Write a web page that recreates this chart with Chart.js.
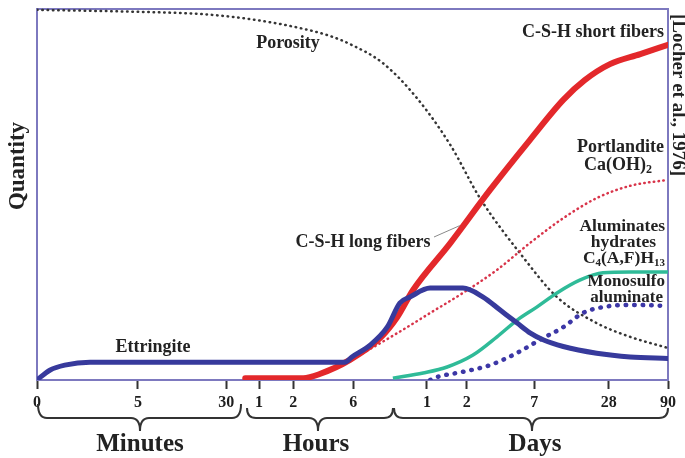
<!DOCTYPE html>
<html>
<head>
<meta charset="utf-8">
<script src="https://cdn.jsdelivr.net/npm/chart.js@4/dist/chart.umd.min.js"></script>
<style>
  html, body { margin: 0; padding: 0; background: #ffffff; }
  #wrap { width: 685px; height: 458px; position: relative; }
</style>
</head>
<body>
<div id="wrap"><canvas id="c"></canvas></div>
<script>
// Time axis: non-uniform scale, positions of each tick along the axis (0–100)
const tickPos   = [0, 16.0, 30.0, 35.2, 40.6, 50.1, 61.8, 68.1, 78.8, 90.6, 100];
const tickText  = ['0', '5', '30', '1', '2', '6', '1', '2', '7', '28', '90'];

// Porosity (black dotted)
const porosityX = [0, 10.0, 17.9, 25.8, 33.8, 41.7, 46.4, 49.6, 54.8, 60.2, 65.5, 70.2, 77.0, 82.4, 88.7, 94.0, 100];
const porosityY = [99.5, 99.2, 98.9, 98.4, 97.0, 94.6, 92.5, 90.3, 85.2, 75.8, 63.2, 48.9, 33.1, 22.3, 15.3, 11.6, 8.6];

// Ettringite (blue solid)
const ettringiteX = [0, 2.1, 4.4, 8.4, 48.8, 49.9, 52.8, 55.5, 57.5, 59.1, 62.3, 67.5, 70.7, 73.4, 76.1, 78.2, 80.2, 83.4, 88.7, 94.0, 100];
const ettringiteY = [0, 2.7, 4.0, 4.8, 4.8, 6.2, 9.4, 14.2, 20.7, 22.3, 24.7, 24.7, 22.3, 18.8, 15.3, 12.6, 10.8, 9.0, 7.2, 6.2, 5.8];

// C-S-H fibers (red solid)
const cshX = [33.0, 42.2, 44.8, 49.6, 54.4, 57.1, 59.6, 65.5, 71.8, 78.1, 83.4, 86.8, 90.8, 95.6, 100];
const cshY = [0.5, 0.5, 1.6, 5.4, 11.3, 16.9, 24.2, 36.8, 51.1, 64.5, 75.3, 80.6, 84.9, 87.6, 90.1];

// Portlandite Ca(OH)2 (red dotted)
const portlanditeX = [49.6, 51.7, 57.1, 62.3, 67.5, 72.9, 78.1, 83.4, 88.7, 94.0, 100];
const portlanditeY = [5.4, 7.3, 12.6, 18.0, 23.4, 29.6, 36.8, 43.5, 48.9, 52.2, 53.8];

// Aluminate hydrates C4(A,F)H13 (green solid)
const aluminatesX = [56.4, 61.2, 65.0, 69.1, 72.9, 76.1, 79.2, 82.4, 86.1, 89.7, 94.0, 100];
const aluminatesY = [0.5, 1.9, 3.5, 6.7, 11.6, 16.1, 19.6, 23.4, 26.9, 28.8, 29.0, 29.0];

// Monosulfoaluminate (blue dotted)
const monosulfoX = [62.3, 63.4, 67.5, 71.8, 76.1, 79.7, 83.4, 86.5, 89.7, 94.0, 100];
const monosulfoY = [0, 0.8, 2.2, 4.0, 7.3, 10.8, 14.2, 18.0, 19.6, 20.2, 19.9];

const pts = (xs, ys) => xs.map((x, i) => ({ x: x, y: ys[i] }));

const SERIF = '"Liberation Serif", "DejaVu Serif", serif';
const FRAME = '#7d79bf';

function drawText(ctx, s, x, y, size, align, color) {
  ctx.font = 'bold ' + size + 'px ' + SERIF;
  ctx.fillStyle = color || '#222222';
  ctx.textAlign = align || 'center';
  ctx.textBaseline = 'middle';
  ctx.fillText(s, x, y);
}

// Text with subscript parts: [[text, isSub], ...]
function drawRich(ctx, parts, x, y, size, align, color) {
  const subSize = Math.round(size * 0.65);
  let total = 0;
  parts.forEach(p => {
    ctx.font = 'bold ' + (p[1] ? subSize : size) + 'px ' + SERIF;
    total += ctx.measureText(p[0]).width;
  });
  let cx = align === 'right' ? x - total : (align === 'left' ? x : x - total / 2);
  ctx.fillStyle = color || '#222222';
  ctx.textAlign = 'left';
  ctx.textBaseline = 'middle';
  parts.forEach(p => {
    ctx.font = 'bold ' + (p[1] ? subSize : size) + 'px ' + SERIF;
    ctx.fillText(p[0], cx, p[1] ? y + size * 0.28 : y);
    cx += ctx.measureText(p[0]).width;
  });
}

function brace(ctx, x1, x2, xm, yTop, yMid, yTip) {
  const r = 9;
  ctx.beginPath();
  ctx.moveTo(x1, yTop);
  ctx.quadraticCurveTo(x1, yMid, x1 + r, yMid);
  ctx.lineTo(xm - r, yMid);
  ctx.quadraticCurveTo(xm, yMid, xm, yTip);
  ctx.quadraticCurveTo(xm, yMid, xm + r, yMid);
  ctx.lineTo(x2 - r, yMid);
  ctx.quadraticCurveTo(x2, yMid, x2, yTop);
  ctx.stroke();
}

const decorations = {
  id: 'decorations',
  beforeDatasetsDraw(chart) {
    const ctx = chart.ctx;
    const a = chart.chartArea;
    ctx.save();
    ctx.strokeStyle = FRAME;
    ctx.lineWidth = 2;
    ctx.beginPath();
    ctx.moveTo(a.left, a.bottom);
    ctx.lineTo(a.left, a.top + 1);
    ctx.lineTo(a.right, a.top + 1);
    ctx.lineTo(a.right, a.bottom);
    ctx.stroke();
    ctx.restore();
  },
  afterDraw(chart) {
    const ctx = chart.ctx;
    const xs = chart.scales.x, ys = chart.scales.y;
    ctx.save();

    // Series labels
    drawText(ctx, 'Porosity', 288, 43, 18);
    drawText(ctx, 'C-S-H short fibers', 664, 32, 18, 'right');
    drawText(ctx, 'Portlandite', 664, 147, 18, 'right');
    drawRich(ctx, [['Ca(OH)', false], ['2', true]], 652, 165, 18, 'right');
    drawText(ctx, 'C-S-H long fibers', 363, 242, 18);
    drawText(ctx, 'Aluminates', 665, 226, 17.5, 'right');
    drawText(ctx, 'hydrates', 656, 242, 17.5, 'right');
    drawRich(ctx, [['C', false], ['4', true], ['(A,F)H', false], ['13', true]], 665, 258, 17.5, 'right');
    drawText(ctx, 'Monosulfo', 665, 282, 17, 'right');
    drawText(ctx, 'aluminate', 663, 298, 17, 'right');
    drawText(ctx, 'Ettringite', 153, 347, 18);

    // Leader line from the long-fibers label to the red curve
    ctx.strokeStyle = '#8a8a8a';
    ctx.lineWidth = 1;
    ctx.beginPath();
    ctx.moveTo(434, 237);
    ctx.lineTo(xs.getPixelForValue(67.0), ys.getPixelForValue(41.5));
    ctx.stroke();

    // Axis title
    ctx.save();
    ctx.translate(18, 166);
    ctx.rotate(-Math.PI / 2);
    drawText(ctx, 'Quantity', 0, 0, 23);
    ctx.restore();

    // Source note along the right edge
    ctx.save();
    ctx.translate(678, 95);
    ctx.rotate(Math.PI / 2);
    drawText(ctx, '[Locher et al., 1976]', 0, 0, 19);
    ctx.restore();

    // Time-unit braces
    ctx.strokeStyle = '#333333';
    ctx.lineWidth = 2;
    brace(ctx, 38, 241, 140, 404, 418, 431);
    brace(ctx, 247, 393, 318, 408, 418, 431);
    brace(ctx, 394, 668, 532, 408, 418, 431);

    drawText(ctx, 'Minutes', 140, 445, 25);
    drawText(ctx, 'Hours', 316, 445, 25);
    drawText(ctx, 'Days', 535, 445, 25);

    ctx.restore();
  }
};

new Chart(document.getElementById('c'), {
  type: 'line',
  data: {
    datasets: [
      {
        label: 'Ettringite',
        data: pts(ettringiteX, ettringiteY),
        borderColor: '#373a9c',
        borderWidth: 5,
        borderCapStyle: 'round',
        borderJoinStyle: 'round'
      },
      {
        label: 'C-S-H',
        data: pts(cshX, cshY),
        borderColor: '#e3282b',
        borderWidth: 6,
        borderCapStyle: 'round',
        borderJoinStyle: 'round'
      },
      {
        label: 'Aluminates hydrates',
        data: pts(aluminatesX, aluminatesY),
        borderColor: '#2fbb98',
        borderWidth: 3.5
      },
      {
        label: 'Monosulfoaluminate',
        data: pts(monosulfoX, monosulfoY),
        borderColor: '#3c37a6',
        borderWidth: 4.5,
        borderDash: [0.5, 8],
        borderCapStyle: 'round'
      },
      {
        label: 'Portlandite',
        data: pts(portlanditeX, portlanditeY),
        borderColor: '#d8344a',
        borderWidth: 2.5,
        borderDash: [0.5, 4.3],
        borderCapStyle: 'round'
      },
      {
        label: 'Porosity',
        data: pts(porosityX, porosityY),
        borderColor: '#353535',
        borderWidth: 2.5,
        borderDash: [0.5, 4.8],
        borderCapStyle: 'round'
      }
    ]
  },
  options: {
    responsive: true,
    maintainAspectRatio: false,
    animation: false,
    devicePixelRatio: 1,
    layout: { padding: { left: 37, right: 17, top: 8, bottom: 0 } },
    elements: {
      point: { radius: 0, hoverRadius: 0 },
      line: { tension: 0.4, cubicInterpolationMode: 'monotone', fill: false }
    },
    plugins: {
      legend: { display: false },
      tooltip: { enabled: false }
    },
    scales: {
      x: {
        type: 'linear',
        min: 0,
        max: 100,
        afterBuildTicks: (s) => { s.ticks = tickPos.map(v => ({ value: v })); },
        afterFit: (s) => { s.height = 78; },
        ticks: {
          autoSkip: false,
          maxRotation: 0,
          padding: 4,
          color: '#1e1e1e',
          font: { family: SERIF, weight: 'bold', size: 16 },
          callback: (v, i) => tickText[i]
        },
        grid: {
          drawOnChartArea: false,
          drawTicks: true,
          tickLength: 9,
          tickWidth: 2,
          tickColor: '#333333'
        },
        border: { display: true, color: FRAME, width: 2 }
      },
      y: {
        display: false,
        min: 0,
        max: 100
      }
    }
  },
  plugins: [decorations]
});
</script>
</body>
</html>
